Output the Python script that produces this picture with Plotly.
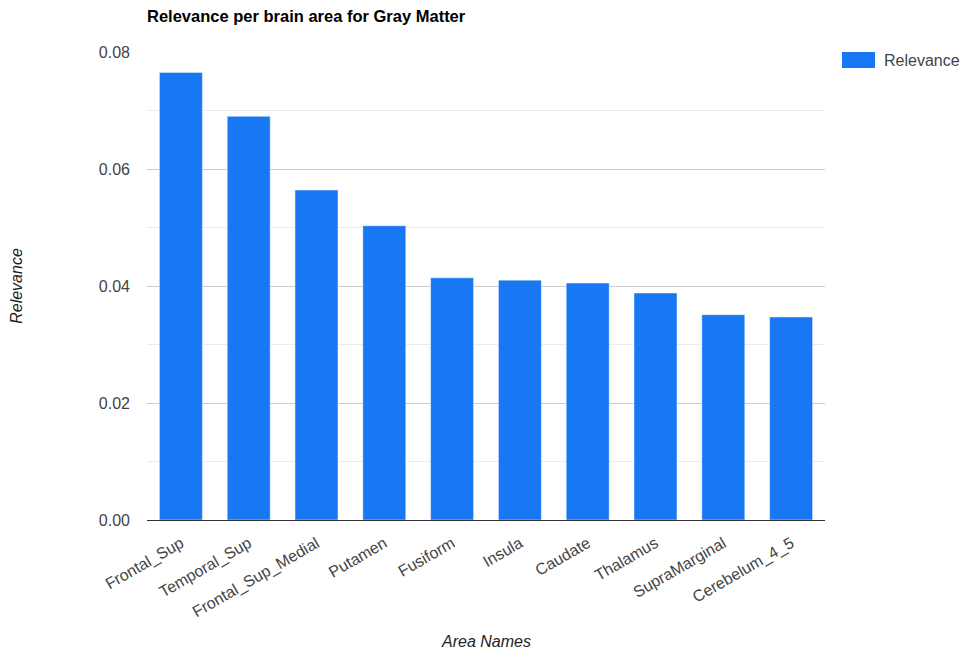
import plotly.graph_objects as go

# Relevance scores per brain area (gray matter)
areas = ["Frontal_Sup", "Temporal_Sup", "Frontal_Sup_Medial", "Putamen", "Fusiform",
         "Insula", "Caudate", "Thalamus", "SupraMarginal", "Cerebelum_4_5"]
relevance = [0.0765, 0.0690, 0.0564, 0.0503, 0.0414,
             0.0410, 0.0405, 0.0388, 0.0351, 0.0347]

series_name = "Relevance"
bar_color = "#1877F2"
font_family = "Liberation Sans, Arial, sans-serif"
plot_h = 655 - 52 - 135

fig = go.Figure()
fig.add_trace(go.Bar(
    x=areas, y=relevance, name=series_name,
    marker=dict(color=bar_color, line=dict(color="rgba(255,255,255,0.45)", width=1)),
    showlegend=False,
))

fig.update_layout(
    width=964, height=655,
    margin=dict(l=147, r=139, t=52, b=135, autoexpand=False),
    paper_bgcolor="white", plot_bgcolor="white",
    font=dict(family=font_family, size=16, color="#444"),
    bargap=0.366,
    title=dict(text="<b>Relevance per brain area for Gray Matter</b>",
               x=147 / 964, xanchor="left", y=1 - 16 / 655, yanchor="middle",
               font=dict(size=16.5, color="#000")),
)

fig.update_yaxes(
    range=[0, 0.08], dtick=0.02, tickformat=".2f", automargin=False,
    showgrid=True, gridcolor="#cccccc", gridwidth=1,
    minor=dict(dtick=0.01, showgrid=True, gridcolor="#ebebeb", gridwidth=1),
    zeroline=False, showline=False, ticks="",
    ticklabelstandoff=16,
    tickfont=dict(size=16, color="#444"),
    title=dict(text="<i>Relevance</i>", standoff=72,
               font=dict(size=16, color="#222")),
)

fig.update_xaxes(
    tickangle=-30, ticks="", showline=True, linecolor="#333", linewidth=1,
    showgrid=False, ticklabelstandoff=7, automargin=False,
    tickfont=dict(size=16, color="#444"),
)

# X-axis title placed below the rotated tick labels
fig.add_annotation(text="<i>Area Names</i>", xref="paper", yref="paper",
                   x=0.5, y=-(641 - 520) / plot_h, xanchor="center", yanchor="middle",
                   showarrow=False, font=dict(size=16, color="#222"))

# Legend swatch and label on the right
fig.add_shape(type="rect", xref="paper", yref="paper",
              x0=(842 - 147) / 678, x1=(875 - 147) / 678,
              y0=1 - 16 / plot_h, y1=1.0,
              fillcolor=bar_color, line=dict(width=0))
fig.add_annotation(text=series_name, xref="paper", yref="paper",
                   x=(882 - 147) / 678, y=1 - 8 / plot_h, xanchor="left", yanchor="middle",
                   showarrow=False, font=dict(size=16, color="#444"))

fig.write_html("out.html")
